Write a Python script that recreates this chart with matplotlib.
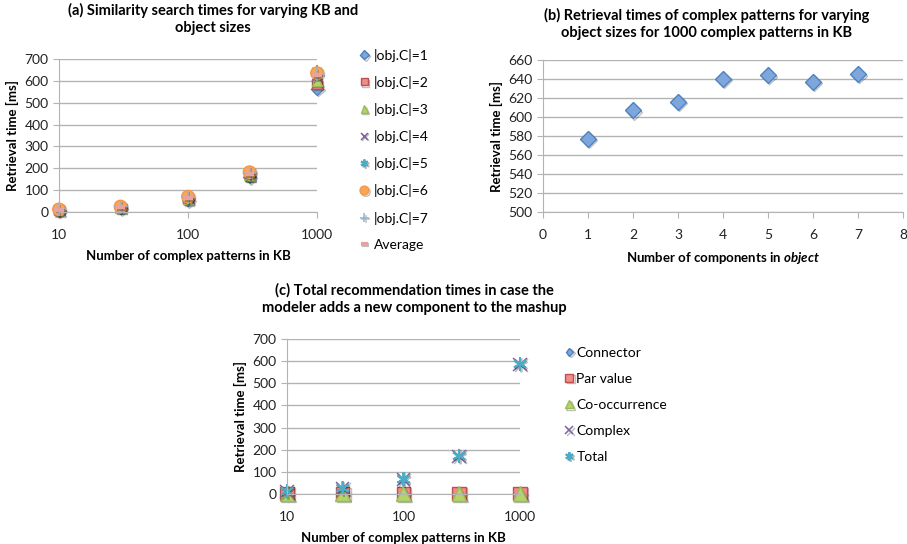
import matplotlib
matplotlib.use("Agg")
from matplotlib import pyplot as plt
import matplotlib.patheffects as pe

plt.rcParams['font.family'] = ['Lato', 'DejaVu Sans']
plt.rcParams['mathtext.fontset'] = 'custom'
plt.rcParams['mathtext.it'] = 'Lato:bold:italic'

# (a) similarity search times
kb_sizes = [10, 30, 100, 300, 1000]
obj_c1 = [8, 18, 55, 160, 565]
obj_c2 = [9, 20, 58, 165, 585]
obj_c3 = [9, 21, 60, 168, 600]
obj_c4 = [10, 22, 63, 172, 620]
obj_c5 = [11, 24, 68, 178, 645]
obj_c6 = [12, 25, 70, 182, 635]
obj_c7 = [11, 24, 67, 178, 628]
average = [10, 22, 63, 172, 625]

# (b) retrieval times for 1000 patterns
n_components = [1, 2, 3, 4, 5, 6, 7]
times_b = [577, 607, 616, 640, 644, 637, 645]

# (c) total recommendation times
connector = [2, 2, 2, 2, 2]
par_value = [3, 3, 3, 3, 3]
co_occurrence = [1, 1, 1, 1, 1]
complex_t = [10, 24, 65, 170, 585]
total = [12, 26, 67, 172, 587]

W, H = 907, 544
fig = plt.figure(figsize=(W / 100, H / 100), dpi=100)

def box(x0, y0, x1, y1):
    return [x0 / W, 1 - y1 / H, (x1 - x0) / W, (y1 - y0) / H]

grid_c = '#b3b3b3'
shadow = [pe.SimpleLineShadow(offset=(1, -1), alpha=0.25, shadow_color='black'), pe.Normal()]

def style(ax):
    for s in ['top', 'right']:
        ax.spines[s].set_visible(False)
    ax.spines['left'].set_color(grid_c)
    ax.spines['bottom'].set_color(grid_c)
    ax.yaxis.grid(True, color=grid_c, lw=1)
    ax.set_axisbelow(True)
    ax.tick_params(colors=grid_c, labelcolor='#222222', labelsize=10, length=4)

markers = [
    dict(marker='D', ms=6.5, mfc='#7da7dc', mec='#4f81bd'),
    dict(marker='s', ms=7, mfc='#ee8d8a', mec='#c0504d'),
    dict(marker='^', ms=7.5, mfc='#b3d36b', mec='#9bbb59'),
    dict(marker='x', ms=7, mec='#8064a2', mew=1.1),
    dict(marker=(6, 2, 0), ms=8, mec='#4bacc6', mew=1.4),
    dict(marker='o', ms=9, mfc='#f9a65a', mec='#f79646'),
    dict(marker='+', ms=9, mec='#95b3d7', mew=1.1),
    dict(marker='_', ms=7, mec='#e6a3a2', mew=3),
]

def xlog(ax):
    ax.set_xscale('log')
    ax.set_xlim(10, 1000)
    ax.set_ylim(0, 700)
    ax.set_xticks([10, 100, 1000])
    ax.set_xticklabels(['10', '100', '1000'])
    ax.minorticks_off()
    ax.tick_params(axis='x', pad=8)
    ax.set_yticks(range(0, 701, 100))

# ---- (a)
ax = fig.add_axes(box(59, 59, 317, 212))
style(ax)
series_a = [obj_c1, obj_c2, obj_c3, obj_c4, obj_c5, obj_c6, obj_c7, average]
labels_a = ['|obj.C|=1', '|obj.C|=2', '|obj.C|=3', '|obj.C|=4', '|obj.C|=5',
            '|obj.C|=6', '|obj.C|=7', 'Average']
for ys, m, lb in zip(series_a, markers, labels_a):
    ax.plot(kb_sizes, ys, ls='none', label=lb, path_effects=shadow, clip_on=False, **m)
xlog(ax)
ax.set_ylabel('Retrieval time [ms]', fontsize=9.5, fontweight='bold', labelpad=4)
ax.set_xlabel('Number of complex patterns in KB', fontsize=9.5, fontweight='bold', labelpad=7)
fig.legend(*ax.get_legend_handles_labels(), loc='upper left', bbox_to_anchor=(354 / W, 1 - 43 / H),
           frameon=False, fontsize=10, labelspacing=1.02, handlelength=0.7, handletextpad=0.35,
           borderaxespad=0, markerscale=0.7)
fig.text(213 / W, 1 - 19 / H, '(a) Similarity search times for varying KB and\nobject sizes',
         ha='center', va='center', fontsize=10.5, fontweight='bold', linespacing=1.25)

# ---- (b)
ax = fig.add_axes(box(543, 60, 903, 212))
style(ax)
ax.plot(n_components, times_b, ls='none', path_effects=shadow, **dict(markers[0], ms=8))
ax.set_xlim(0, 8)
ax.set_ylim(500, 660)
ax.set_xticks(range(0, 9))
ax.set_yticks(range(500, 661, 20))
ax.tick_params(axis='x', pad=8)
ax.set_ylabel('Retrieval time [ms]', fontsize=9.5, fontweight='bold', labelpad=4)
ax.set_xlabel('Number of components in $\\it{object}$', fontsize=9.5, fontweight='bold', labelpad=7)
fig.text(707 / W, 1 - 24 / H, '(b) Retrieval times of complex patterns for varying\nobject sizes for 1000 complex patterns in KB',
         ha='center', va='center', fontsize=10.5, fontweight='bold', linespacing=1.25)

# ---- (c)
ax = fig.add_axes(box(287, 339, 520, 494))
style(ax)
series_c = [connector, par_value, co_occurrence, complex_t, total]
labels_c = ['Connector', 'Par value', 'Co-occurrence', 'Complex', 'Total']
cm = [dict(markers[0]), dict(markers[1], ms=9.5), dict(markers[2], ms=10.5),
      dict(markers[3], ms=9.5), dict(markers[4], ms=10)]
for ys, m, lb in zip(series_c, cm, labels_c):
    ax.plot(kb_sizes, ys, ls='none', label=lb, path_effects=shadow, clip_on=False, **m)
xlog(ax)
ax.set_ylabel('Retrieval time [ms]', fontsize=9.5, fontweight='bold', labelpad=4)
ax.set_xlabel('Number of complex patterns in KB', fontsize=9.5, fontweight='bold', labelpad=7)
h, l = ax.get_legend_handles_labels()
fig.legend(h, l, loc='upper left', bbox_to_anchor=(559 / W, 1 - 341 / H),
           frameon=False, fontsize=10, labelspacing=1.02, handlelength=0.7, handletextpad=0.15,
           borderaxespad=0, markerscale=0.6)
fig.text(414 / W, 1 - 299 / H, '(c) Total recommendation times in case the\nmodeler adds a new component to the mashup',
         ha='center', va='center', fontsize=10.5, fontweight='bold', linespacing=1.25)

fig.savefig('out.png', dpi=100)
